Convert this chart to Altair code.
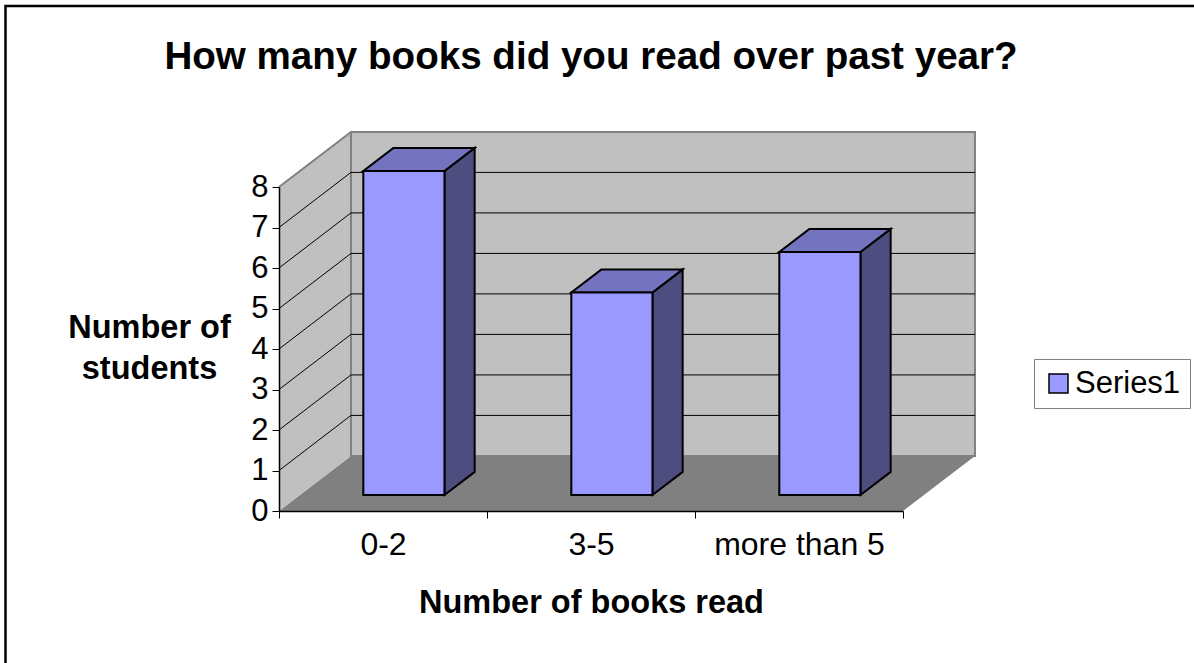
import json
import altair as alt
import pandas as pd

# ---------------- data ----------------
CATEGORIES = ["0-2", "3-5", "more than 5"]
VALUES = [8, 5, 6]
SERIES_NAME = "Series1"
Y_TICKS = [0, 1, 2, 3, 4, 5, 6, 7, 8]

TITLE = "How many books did you read over past year?"
X_TITLE = "Number of books read"
Y_TITLE = ["Number of", "students"]

# ---------------- style ----------------
FONT = "Liberation Sans"
FRONT_COLOR = "#9999FF"
TOP_COLOR = "#7373BF"
SIDE_COLOR = "#4D4D80"
WALL_COLOR = "#C0C0C0"
FLOOR_COLOR = "#808080"
EDGE_COLOR = "#808080"

DEPTH_X = 0.346   # 3-D depth, in category units
DEPTH_Y = 1.36    # 3-D depth, in value units
BAR_W = 0.39      # bar width, in category units
FRONT = 0.29      # bar front face depth fraction
BACK = 0.71       # bar back face depth fraction

W, H = 624, 324
PAD = {"left": 279, "top": 187, "right": 291, "bottom": 152}

n = len(CATEGORIES)
ymax = max(Y_TICKS)

xs = alt.Scale(domain=[0, n], nice=False, zero=False)
ys = alt.Scale(domain=[0, ymax], nice=False, zero=False)

label_pos = [i + 0.5 for i in range(n)]
tick_vals = sorted(set(list(range(n + 1)) + label_pos))

x_axis = alt.Axis(
    values=tick_vals,
    labelExpr=f"datum.value % 1 == 0 ? '' : {json.dumps(CATEGORIES)}[floor(datum.value)]",
    tickOpacity={"condition": {"test": "datum.value % 1 != 0", "value": 0}, "value": 1},
    grid=False, domainColor="black", domainWidth=1.5, tickColor="black",
    tickSize=7, tickWidth=1, labelFont=FONT, labelFontSize=32, labelColor="black",
    labelBaseline="alphabetic", labelPadding=36, labelOverlap=False, labelFlush=False,
    title=X_TITLE, titleFont=FONT, titleFontSize=32.5, titleFontWeight="bold",
    titleColor="black", titleY=101, titleBaseline="alphabetic", zindex=1,
)
y_axis = alt.Axis(
    values=Y_TICKS, grid=False, domainColor="black", domainWidth=1.5,
    tickColor="black", tickSize=7, tickWidth=1, labelFont=FONT, labelFontSize=31,
    labelColor="black", labelPadding=4, labelOverlap=False, labelFlush=False,
    title=Y_TITLE, titleFont=FONT, titleFontSize=32.5, titleFontWeight="bold",
    titleColor="black", titleAngle=0, titleX=-130, titleY=150, titleAlign="center",
    titleBaseline="alphabetic", titleLineHeight=41, zindex=1,
)


def X(f):
    return alt.X(f"{f}:Q", scale=xs, axis=x_axis)


def Y(f):
    return alt.Y(f"{f}:Q", scale=ys, axis=y_axis)


# ---------------- 3-D frame ----------------
floor_df = pd.DataFrame({"y": [0, DEPTH_Y], "x": [0, DEPTH_X], "x2": [n, n + DEPTH_X]})
floor = alt.Chart(floor_df).mark_area(orient="horizontal", color=FLOOR_COLOR).encode(
    y=Y("y"), x=X("x"), x2="x2")

lwall_df = pd.DataFrame({"x": [0, DEPTH_X], "y": [0, DEPTH_Y], "y2": [ymax, ymax + DEPTH_Y]})
lwall = alt.Chart(lwall_df).mark_area(orient="vertical", color=WALL_COLOR).encode(
    x=X("x"), y=Y("y"), y2="y2")

bwall_df = pd.DataFrame({"x": [DEPTH_X], "x2": [n + DEPTH_X], "y": [DEPTH_Y], "y2": [ymax + DEPTH_Y]})
bwall = alt.Chart(bwall_df).mark_rect(fill=WALL_COLOR, stroke=EDGE_COLOR, strokeWidth=2).encode(
    x=X("x"), x2="x2", y=Y("y"), y2="y2")

inner = Y_TICKS[1:-1]
bgrid_df = pd.DataFrame({"x": DEPTH_X, "x2": n + DEPTH_X, "y": [k + DEPTH_Y for k in inner]})
bgrid = alt.Chart(bgrid_df).mark_rule(color="black", strokeWidth=1).encode(
    x=X("x"), x2="x2", y=Y("y"))

lgrid_df = pd.DataFrame({"x": 0.0, "x2": DEPTH_X, "y": inner, "y2": [k + DEPTH_Y for k in inner]})
lgrid = alt.Chart(lgrid_df).mark_rule(color="black", strokeWidth=1).encode(
    x=X("x"), x2="x2", y=Y("y"), y2="y2")

ltop_df = pd.DataFrame({"x": [0.0], "x2": [DEPTH_X], "y": [ymax], "y2": [ymax + DEPTH_Y]})
ltop = alt.Chart(ltop_df).mark_rule(color=EDGE_COLOR, strokeWidth=2).encode(
    x=X("x"), x2="x2", y=Y("y"), y2="y2")

# ---------------- bars ----------------
front_rows, top_rows, side_rows = [], [], []
sx = (BACK - FRONT) * DEPTH_X
for i, (c, v) in enumerate(zip(CATEGORIES, VALUES)):
    xl = i + 0.5 - BAR_W / 2 + FRONT * DEPTH_X
    xr = xl + BAR_W
    yf = FRONT * DEPTH_Y
    yb = BACK * DEPTH_Y
    front_rows.append({"category": c, "series": SERIES_NAME, "x": xl, "x2": xr, "y": yf, "y2": v + yf})
    top_rows += [{"category": c, "y": v + yf, "x": xl, "x2": xr},
                 {"category": c, "y": v + yb, "x": xl + sx, "x2": xr + sx}]
    side_rows += [{"category": c, "x": xr, "y": yf, "y2": v + yf},
                  {"category": c, "x": xr + sx, "y": yb, "y2": v + yb}]

side = alt.Chart(pd.DataFrame(side_rows)).mark_area(
    orient="vertical", fill=SIDE_COLOR, stroke="black", strokeWidth=2, strokeJoin="miter"
).encode(x=X("x"), y=Y("y"), y2="y2", detail="category:N")

top = alt.Chart(pd.DataFrame(top_rows)).mark_area(
    orient="horizontal", fill=TOP_COLOR, stroke="black", strokeWidth=2, strokeJoin="miter"
).encode(y=Y("y"), x=X("x"), x2="x2", detail="category:N")

front = alt.Chart(pd.DataFrame(front_rows)).mark_rect(
    stroke="black", strokeWidth=2, opacity=1
).encode(
    x=X("x"), x2="x2", y=Y("y"), y2="y2",
    color=alt.Color("series:N", scale=alt.Scale(domain=[SERIES_NAME], range=[FRONT_COLOR]),
                    legend=alt.Legend(
                        title=None, orient="none", legendX=755, legendY=172,
                        padding=9, strokeColor="#808080", fillColor="white",
                        symbolType="square", symbolSize=361, symbolStrokeColor="black",
                        symbolStrokeWidth=1.5, symbolOpacity=1,
                        labelFont=FONT, labelFontSize=31, labelColor="black", labelOffset=1)),
)

# ---------------- outer border ----------------
border = alt.Chart(pd.DataFrame({"k": [0]})).mark_rect(
    fill="white", fillOpacity=0, stroke="black", strokeWidth=2.5
).encode(x=alt.value(-273.5), x2=alt.value(960), y=alt.value(-181), y2=alt.value(520))

chart = alt.layer(
    border, floor, lwall, bwall, bgrid, lgrid, ltop, side, top, front
).properties(
    width=W, height=H, padding=PAD, autosize=alt.AutoSizeParams(type="none"),
    title=alt.TitleParams(TITLE, font=FONT, fontSize=38.6, fontWeight="bold", color="black",
                          anchor="middle", frame="group", offset=0, baseline="alphabetic", dy=103),
    background="white",
).configure_view(strokeWidth=0)

chart.save("out.html", embed_options={"renderer": "svg", "actions": False})
